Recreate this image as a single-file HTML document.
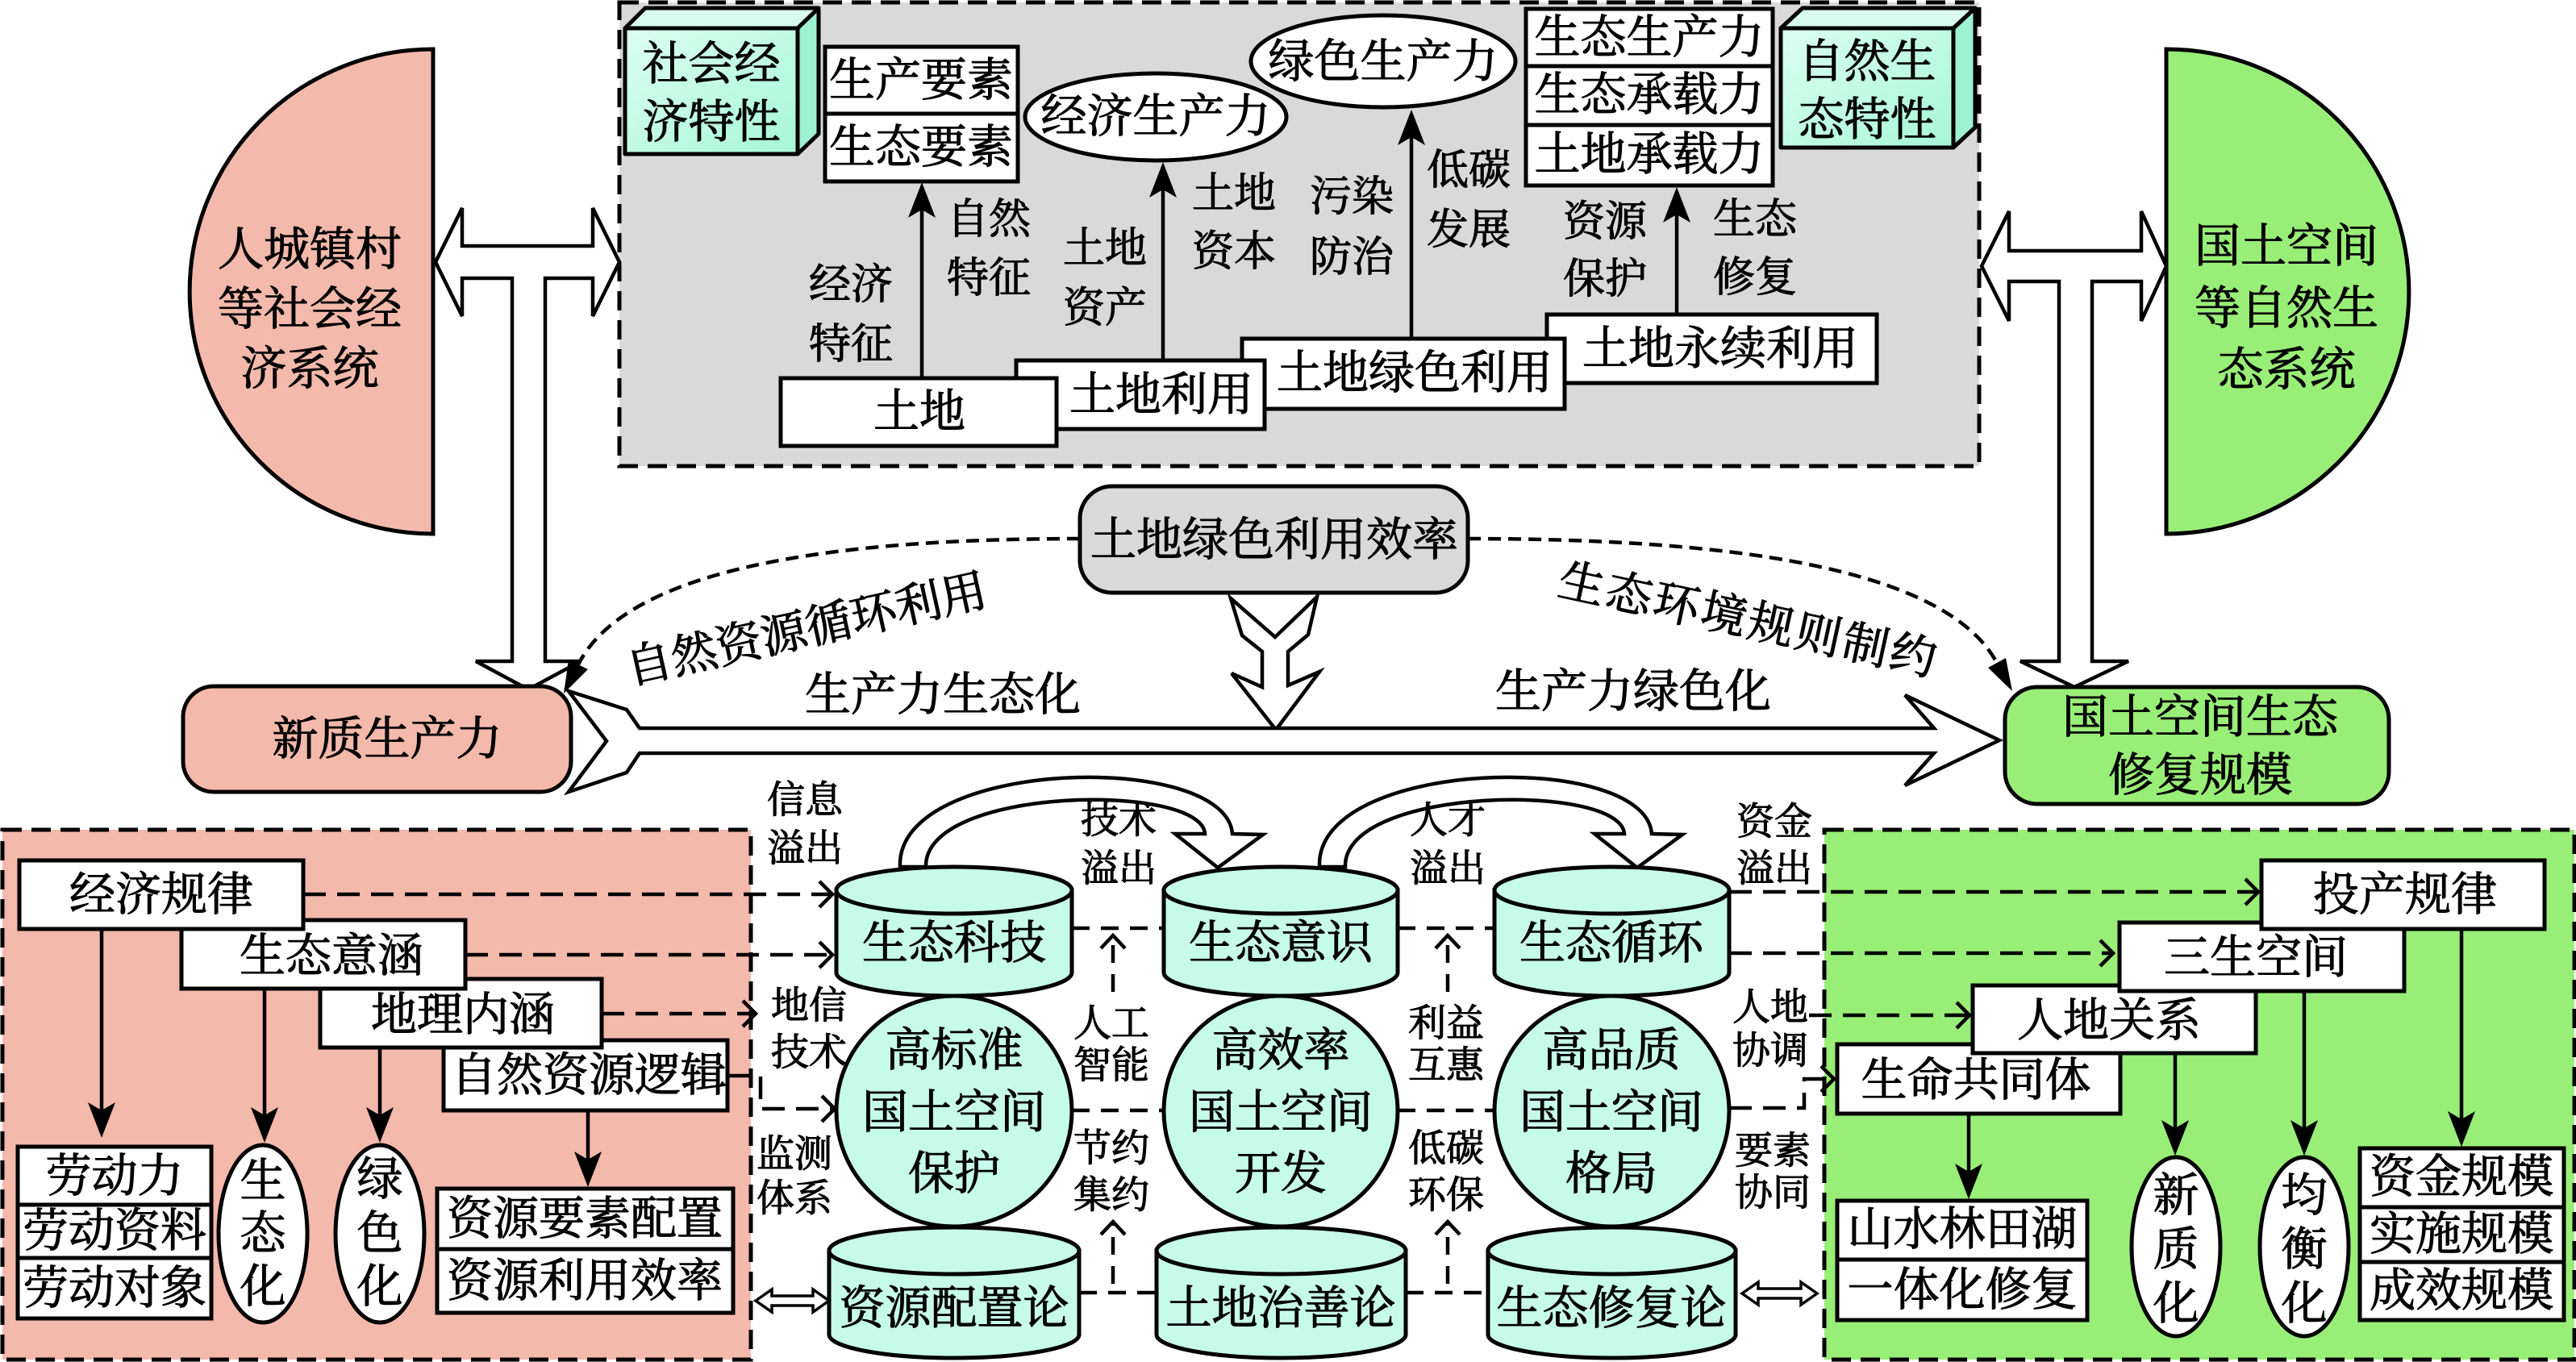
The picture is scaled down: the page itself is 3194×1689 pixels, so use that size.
<!DOCTYPE html>
<html><head><meta charset="utf-8">
<style>
html,body{margin:0;padding:0;background:#fff;}
svg{display:block}
text{font-family:"Liberation Serif","Noto Serif CJK SC","Noto Sans CJK SC",serif;text-anchor:middle;dominant-baseline:central;fill:#000;font-size:57px;stroke:#000;stroke-width:1.1px}
.s{font-size:47px}
.m{font-size:52px}
</style></head><body>
<svg width="3194" height="1689" viewBox="0 0 3194 1689" xmlns="http://www.w3.org/2000/svg">
<defs>
<linearGradient id="cf" x1="0" y1="0" x2="1" y2="1">
<stop offset="0" stop-color="#dcfef2"/><stop offset="1" stop-color="#a6f6d8"/>
</linearGradient>
</defs>

<!-- ============ TOP ============ -->
<rect x="768" y="3" width="1686" height="575" fill="#d9d9d9" stroke="#000" stroke-width="5" stroke-dasharray="24 12"/>

<path d="M537,61 A302,300.5 0 0 0 537,662 Z" fill="#f3b9ab" stroke="#000" stroke-width="5"/>
<text x="384" y="310">人城镇村</text>
<text x="384" y="384">等社会经</text>
<text x="384" y="458">济系统</text>

<path d="M2686,61 A301,300.5 0 0 1 2686,662 Z" fill="#99ee77" stroke="#000" stroke-width="5"/>
<text x="2835" y="306">国土空间</text>
<text x="2835" y="383">等自然生</text>
<text x="2835" y="459">态系统</text>

<!-- double arrows -->
<polygon points="540,325 573,258 573,305 735,305 735,258 768,325 735,392 735,345 676,345 676,820 720,820 655,855 590,820 635,820 635,345 573,345 573,392" fill="#fff" stroke="#000" stroke-width="4.5" stroke-linejoin="miter"/>
<polygon points="2457,330 2491,262 2491,311 2655,311 2655,262 2686,330 2655,398 2655,349 2594,349 2594,820 2639,820 2572,852 2505,820 2553,820 2553,349 2491,349 2491,398" fill="#fff" stroke="#000" stroke-width="4.5"/>

<!-- cubes -->
<g stroke="#000" stroke-width="5" stroke-linejoin="round">
<polygon points="775,35 800,10 1015,10 989,35" fill="#d8fdf0"/>
<polygon points="989,35 1015,10 1015,166 989,191" fill="#9cf2d2"/>
<rect x="775" y="35" width="214" height="156" fill="url(#cf)"/>
<polygon points="2208,35 2235,10 2449,10 2422,35" fill="#d8fdf0"/>
<polygon points="2422,35 2449,10 2449,158 2422,183" fill="#9cf2d2"/>
<rect x="2208" y="35" width="214" height="148" fill="url(#cf)"/>
</g>
<text x="882" y="80">社会经</text>
<text x="882" y="152">济特性</text>
<text x="2315" y="77">自然生</text>
<text x="2315" y="149">态特性</text>

<g fill="#fff" stroke="#000" stroke-width="5">
<rect x="1023" y="58" width="239" height="167"/>
<line x1="1023" y1="141" x2="1262" y2="141"/>
<ellipse cx="1433" cy="145" rx="162" ry="54"/>
<ellipse cx="1715" cy="76" rx="164" ry="57"/>
<rect x="1892" y="11" width="306" height="219"/>
<line x1="1892" y1="82" x2="2198" y2="82"/>
<line x1="1892" y1="155" x2="2198" y2="155"/>
<rect x="1918" y="390" width="409" height="85"/>
<rect x="1540" y="420" width="400" height="87"/>
<rect x="1260" y="447" width="308" height="85"/>
<rect x="968" y="469" width="342" height="84"/>
</g>
<text x="1142" y="100">生产要素</text>
<text x="1142" y="183">生态要素</text>
<text x="1433" y="145">经济生产力</text>
<text x="1715" y="77">绿色生产力</text>
<text x="2045" y="47">生态生产力</text>
<text x="2045" y="118">生态承载力</text>
<text x="2045" y="192">土地承载力</text>
<text x="2133" y="433">土地永续利用</text>
<text x="1754" y="463">土地绿色利用</text>
<text x="1440" y="490">土地利用</text>
<text x="1140" y="511">土地</text>

<!-- up arrows in gray box -->
<g stroke="#000" stroke-width="4.5">
<line x1="1143" y1="469" x2="1143" y2="258"/>
<line x1="1442" y1="447" x2="1442" y2="233"/>
<line x1="1750" y1="420" x2="1750" y2="168"/>
<line x1="2079" y1="390" x2="2079" y2="264"/>
</g>
<g fill="#000">
<polygon points="1143,226 1126,270 1143,260 1160,270"/>
<polygon points="1442,201 1425,245 1442,235 1459,245"/>
<polygon points="1750,136 1733,180 1750,170 1767,180"/>
<polygon points="2079,232 2062,276 2079,266 2096,276"/>
</g>

<g class="m">
<text class="m" x="1055" y="354">经济</text><text class="m" x="1055" y="428">特征</text>
<text class="m" x="1226" y="273">自然</text><text class="m" x="1226" y="346">特征</text>
<text class="m" x="1370" y="309">土地</text><text class="m" x="1370" y="383">资产</text>
<text class="m" x="1530" y="241">土地</text><text class="m" x="1530" y="313">资本</text>
<text class="m" x="1676" y="245">污染</text><text class="m" x="1676" y="320">防治</text>
<text class="m" x="1821" y="212">低碳</text><text class="m" x="1821" y="286">发展</text>
<text class="m" x="1990" y="276">资源</text><text class="m" x="1990" y="347">保护</text>
<text class="m" x="2176" y="273">生态</text><text class="m" x="2176" y="345">修复</text>
</g>

<!-- ============ MIDDLE ============ -->
<rect x="1339" y="603" width="481" height="132" rx="40" ry="40" fill="#d9d9d9" stroke="#000" stroke-width="5"/>
<text x="1580" y="670">土地绿色利用效率</text>

<path d="M1339,668 C1050,668 780,700 717,824" fill="none" stroke="#000" stroke-width="4.5" stroke-dasharray="16 9"/>
<polygon points="699,860 729,830 705,818" fill="#000"/>
<path d="M1820,668 C2130,668 2410,700 2476,822" fill="none" stroke="#000" stroke-width="4.5" stroke-dasharray="16 9"/>
<polygon points="2495,857 2487,816 2465,828" fill="#000"/>

<text x="1000" y="781" transform="rotate(-12.5 1000 781)">自然资源循环利用</text>
<text x="2168" y="770" transform="rotate(12.2 2168 770)" letter-spacing="3">生态环境规则制约</text>

<polygon points="1526,742 1581,790 1633,740 1622,787 1597,808 1597,850 1636,833 1582,905 1527,835 1565,852 1565,808 1540,788" fill="#fff" stroke="#000" stroke-width="4.5"/>

<polygon points="705,857 777,880 793,903 2398,903 2362,862 2479,918 2362,974 2398,934 793,934 777,958 705,982 752,919" fill="#fff" stroke="#000" stroke-width="4.5"/>

<text x="1169" y="862">生产力生态化</text>
<text x="2025" y="858">生产力绿色化</text>

<rect x="227" y="851" width="481" height="131" rx="38" ry="38" fill="#f3b9ab" stroke="#000" stroke-width="5"/>
<text x="480" y="917">新质生产力</text>

<rect x="2486" y="852" width="476" height="145" rx="40" ry="40" fill="#99ee77" stroke="#000" stroke-width="5"/>
<text x="2728" y="890">国土空间生态</text>
<text x="2728" y="962">修复规模</text>

<!-- ============ BOTTOM LEFT ============ -->
<rect x="3" y="1029" width="928" height="657" fill="#f3b9ab" stroke="#000" stroke-width="5" stroke-dasharray="24 12"/>
<g fill="#fff" stroke="#000" stroke-width="5">
<rect x="550" y="1290" width="352" height="87"/>
<rect x="397" y="1214" width="349" height="85"/>
<rect x="225" y="1141" width="352" height="85"/>
<rect x="24" y="1067" width="352" height="85"/>
<rect x="22" y="1422" width="240" height="213"/>
<line x1="22" y1="1494" x2="262" y2="1494"/>
<line x1="22" y1="1560" x2="262" y2="1560"/>
<ellipse cx="326" cy="1530" rx="55" ry="110"/>
<ellipse cx="471" cy="1530" rx="55" ry="110"/>
<rect x="542" y="1474" width="367" height="154"/>
<line x1="542" y1="1549" x2="909" y2="1549"/>
</g>
<text x="200" y="1110">经济规律</text>
<text x="411" y="1186">生态意涵</text>
<text x="574" y="1259">地理内涵</text>
<text x="730" y="1334">自然资源逻辑</text>
<text x="142" y="1459">劳动力</text>
<text x="142" y="1527">劳动资料</text>
<text x="142" y="1598">劳动对象</text>
<text x="326" y="1465">生</text><text x="326" y="1530">态</text><text x="326" y="1596">化</text>
<text x="471" y="1463">绿</text><text x="471" y="1530">色</text><text x="471" y="1596">化</text>
<text x="725" y="1512">资源要素配置</text>
<text x="725" y="1589">资源利用效率</text>

<g stroke="#000" stroke-width="4.5">
<line x1="126" y1="1152" x2="126" y2="1379"/>
<line x1="328" y1="1226" x2="328" y2="1385"/>
<line x1="471" y1="1299" x2="471" y2="1385"/>
<line x1="729" y1="1377" x2="729" y2="1440"/>
</g>
<g fill="#000">
<polygon points="126,1411 109,1367 126,1377 143,1367"/>
<polygon points="328,1417 311,1373 328,1383 345,1373"/>
<polygon points="471,1417 454,1373 471,1383 488,1373"/>
<polygon points="729,1472 712,1428 729,1438 746,1428"/>
</g>

<!-- ============ BOTTOM RIGHT ============ -->
<rect x="2262" y="1029" width="930" height="657" fill="#99ee77" stroke="#000" stroke-width="5" stroke-dasharray="24 12"/>
<g fill="#fff" stroke="#000" stroke-width="5">
<rect x="2278" y="1295" width="351" height="86"/>
<rect x="2446" y="1222" width="351" height="84"/>
<rect x="2628" y="1144" width="353" height="85"/>
<rect x="2804" y="1067" width="351" height="85"/>
<rect x="2278" y="1489" width="310" height="148"/>
<line x1="2278" y1="1562" x2="2588" y2="1562"/>
<ellipse cx="2698" cy="1546" rx="55" ry="111"/>
<ellipse cx="2857" cy="1546" rx="55" ry="111"/>
<rect x="2926" y="1424" width="253" height="213"/>
<line x1="2926" y1="1497" x2="3179" y2="1497"/>
<line x1="2926" y1="1565" x2="3179" y2="1565"/>
</g>
<text x="2982" y="1110">投产规律</text>
<text x="2797" y="1188">三生空间</text>
<text x="2615" y="1266">人地关系</text>
<text x="2450" y="1340">生命共同体</text>
<text x="2433" y="1525">山水林田湖</text>
<text x="2433" y="1600">一体化修复</text>
<text x="2698" y="1483">新</text><text x="2698" y="1550">质</text><text x="2698" y="1617">化</text>
<text x="2857" y="1483">均</text><text x="2857" y="1550">衡</text><text x="2857" y="1617">化</text>
<text x="3052" y="1460">资金规模</text>
<text x="3052" y="1531">实施规模</text>
<text x="3052" y="1601">成效规模</text>

<g stroke="#000" stroke-width="4.5">
<line x1="3052" y1="1152" x2="3052" y2="1390"/>
<line x1="2857" y1="1229" x2="2857" y2="1401"/>
<line x1="2697" y1="1306" x2="2697" y2="1401"/>
<line x1="2441" y1="1381" x2="2441" y2="1455"/>
</g>
<g fill="#000">
<polygon points="3052,1422 3035,1378 3052,1388 3069,1378"/>
<polygon points="2857,1433 2840,1389 2857,1399 2874,1389"/>
<polygon points="2697,1433 2680,1389 2697,1399 2714,1389"/>
<polygon points="2441,1487 2424,1443 2441,1453 2458,1443"/>
</g>

<!-- ============ BOTTOM CENTER ============ -->
<path d="M1116,1075 C1110,940 1520,930 1528,1034 L1566,1035 L1510,1076 L1457,1034 L1494,1034 C1490,970 1145,975 1148,1075 Z" fill="#fff" stroke="#000" stroke-width="4.5"/>
<path d="M1116,1075 C1110,940 1520,930 1528,1034 L1566,1035 L1510,1076 L1457,1034 L1494,1034 C1490,970 1145,975 1148,1075 Z" transform="translate(520,0)" fill="#fff" stroke="#000" stroke-width="4.5"/>

<!-- dashed connectors -->
<g fill="none" stroke="#000" stroke-width="4.5" stroke-dasharray="28 14">
<line x1="376" y1="1109" x2="1030" y2="1109"/>
<line x1="577" y1="1184" x2="1030" y2="1184"/>
<line x1="746" y1="1257" x2="935" y2="1257"/>
<polyline points="902,1334 943,1334 943,1375 1033,1375"/>
<line x1="2144" y1="1106" x2="2798" y2="1106"/>
<line x1="2144" y1="1182" x2="2618" y2="1182"/>
<line x1="2243" y1="1259" x2="2440" y2="1259"/>
<polyline points="2144,1374 2237,1374 2237,1338 2272,1338"/>
</g>
<g fill="none" stroke="#000" stroke-width="4.5" stroke-dasharray="22 14">
<line x1="1329" y1="1151" x2="1443" y2="1151"/>
<line x1="1733" y1="1151" x2="1853" y2="1151"/>
<line x1="1329" y1="1377" x2="1443" y2="1377"/>
<line x1="1733" y1="1377" x2="1853" y2="1377"/>
<line x1="1338" y1="1603" x2="1434" y2="1603"/>
<line x1="1743" y1="1603" x2="1845" y2="1603"/>
<line x1="1380" y1="1230" x2="1380" y2="1162"/>
<line x1="1795" y1="1230" x2="1795" y2="1162"/>
<line x1="1380" y1="1592" x2="1380" y2="1517"/>
<line x1="1795" y1="1592" x2="1795" y2="1517"/>
</g>
<g fill="none" stroke="#000" stroke-width="4.5">
<polyline points="1016,1093 1032,1109 1016,1125"/>
<polyline points="1016,1168 1032,1184 1016,1200"/>
<polyline points="921,1241 937,1257 921,1273"/>
<polyline points="1019,1359 1035,1375 1019,1391"/>
<polyline points="2784,1090 2800,1106 2784,1122"/>
<polyline points="2604,1166 2620,1182 2604,1198"/>
<polyline points="2426,1243 2442,1259 2426,1275"/>
<polyline points="2258,1322 2274,1338 2258,1354"/>
<polyline points="1365,1176 1380,1160 1395,1176"/>
<polyline points="1780,1176 1795,1160 1810,1176"/>
<polyline points="1365,1531 1380,1515 1395,1531"/>
<polyline points="1780,1531 1795,1515 1810,1531"/>
</g>

<!-- cylinders -->
<g fill="#c7fbe9" stroke="#000" stroke-width="5">
<path d="M1037,1104 L1037,1206 A146,29 0 0 0 1329,1206 L1329,1104 Z"/>
<ellipse cx="1183" cy="1104" rx="146" ry="29"/>
<path d="M1443,1104 L1443,1206 A145,29 0 0 0 1733,1206 L1733,1104 Z"/>
<ellipse cx="1588" cy="1104" rx="145" ry="29"/>
<path d="M1853,1104 L1853,1206 A145.5,29 0 0 0 2144,1206 L2144,1104 Z"/>
<ellipse cx="1998.5" cy="1104" rx="145.5" ry="29"/>
<path d="M1028,1551 L1028,1655 A155,29 0 0 0 1338,1655 L1338,1551 Z"/>
<ellipse cx="1183" cy="1551" rx="155" ry="29"/>
<path d="M1434,1551 L1434,1655 A154.5,29 0 0 0 1743,1655 L1743,1551 Z"/>
<ellipse cx="1588.5" cy="1551" rx="154.5" ry="29"/>
<path d="M1845,1551 L1845,1655 A153.5,29 0 0 0 2152,1655 L2152,1551 Z"/>
<ellipse cx="1998.5" cy="1551" rx="153.5" ry="29"/>
<ellipse cx="1183" cy="1378" rx="146" ry="143"/>
<ellipse cx="1588" cy="1378" rx="145" ry="143"/>
<ellipse cx="1998.5" cy="1378" rx="145.5" ry="143"/>
</g>
<text x="1183" y="1170">生态科技</text>
<text x="1588" y="1170">生态意识</text>
<text x="1998" y="1170">生态循环</text>
<text x="1183" y="1623">资源配置论</text>
<text x="1588" y="1623">土地治善论</text>
<text x="1998" y="1623">生态修复论</text>
<text x="1183" y="1303">高标准</text><text x="1183" y="1380">国土空间</text><text x="1183" y="1456">保护</text>
<text x="1588" y="1303">高效率</text><text x="1588" y="1380">国土空间</text><text x="1588" y="1456">开发</text>
<text x="1998" y="1303">高品质</text><text x="1998" y="1380">国土空间</text><text x="1998" y="1456">格局</text>

<!-- small labels -->
<text class="s" x="998" y="993">信息</text><text class="s" x="998" y="1053">溢出</text>
<text class="s" x="1387" y="1018">技术</text><text class="s" x="1387" y="1078">溢出</text>
<text class="s" x="1795" y="1018">人才</text><text class="s" x="1795" y="1078">溢出</text>
<text class="s" x="2200" y="1020">资金</text><text class="s" x="2200" y="1078">溢出</text>
<text class="s" x="1003" y="1248">地信</text><text class="s" x="1003" y="1306">技术</text>
<text class="s" x="985" y="1432">监测</text><text class="s" x="985" y="1487">体系</text>
<text class="s" x="1378" y="1270">人工</text><text class="s" x="1378" y="1322">智能</text>
<text class="s" x="1378" y="1425">节约</text><text class="s" x="1378" y="1483">集约</text>
<text class="s" x="1793" y="1270">利益</text><text class="s" x="1793" y="1322">互惠</text>
<text class="s" x="1793" y="1425">低碳</text><text class="s" x="1793" y="1483">环保</text>
<text class="s" x="2195" y="1250">人地</text><text class="s" x="2195" y="1304">协调</text>
<text class="s" x="2198" y="1428">要素</text><text class="s" x="2198" y="1480">协同</text>

<!-- hollow double arrows bottom -->
<polygon points="937,1613 957,1599 957,1607 1008,1607 1008,1599 1028,1613 1008,1627 1008,1619 957,1619 957,1627" fill="#fff" stroke="#000" stroke-width="3.5"/>
<polygon points="2160,1604 2180,1590 2180,1598 2233,1598 2233,1590 2253,1604 2233,1618 2233,1610 2180,1610 2180,1618" fill="#fff" stroke="#000" stroke-width="3.5"/>
</svg>
</body></html>
